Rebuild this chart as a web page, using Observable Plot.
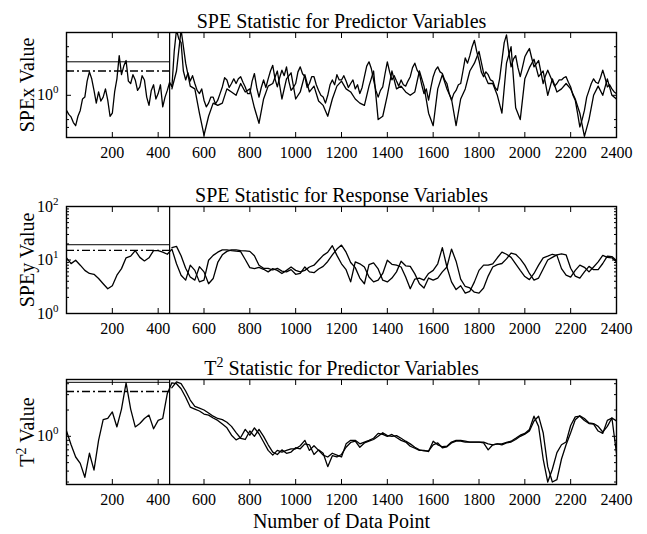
<!DOCTYPE html>
<html><head><meta charset="utf-8">
<script src="https://cdn.jsdelivr.net/npm/d3@7"></script>
<script src="https://cdn.jsdelivr.net/npm/@observablehq/plot@0.6"></script>
<style>
body{margin:0;background:#fff;}
#chart{width:647px;height:534px;position:relative;background:#fff;}
#chart svg{display:block;}
</style></head><body><div id="chart"></div>
<script>
// ---- data ----
const CHANGE_POINT = 450; // vertical separator
const xTicks = [200, 400, 600, 800, 1000, 1200, 1400, 1600, 1800, 2000, 2200, 2400];

const titles = ["SPE Statistic for Predictor Variables", "SPE Statistic for Response Variables", "T^2 Statistic for Predictor Variables"];
const yLabels = ["SPEx Value", "SPEy Value", "T^2 Value"];
const xLabel = "Number of Data Point";

// sampling of each series: [first data point, spacing]
const samplingA = [[0, 10], [0, 20], [0, 20]];
const samplingB = [[460, 20], [460, 20], [460, 20]];

// SPEx (step 10 from 0)
const spexA = [
  0.65, 0.58, 0.54, 0.46, 0.42, 0.55, 0.65, 0.9, 0.95, 1.5,
  1.95, 1.6, 1.15, 0.8, 1.1, 0.85, 0.95, 1.2, 0.87, 0.55,
  0.6, 1.1, 1.6, 3.1, 1.8, 2.3, 2.7, 1.5, 1.4, 1.8,
  1.55, 1.15, 1.27, 1.75, 1.55, 0.95, 0.75, 1.15, 1.35, 0.9,
  1.05, 1.35, 0.72, 0.95, 1.15, 1.45, 1.27, 3.5, 6.5, 5.0,
  4.5, 2.0, 1.55, 1.9, 1.5, 1.75, 1.4, 1.15, 1.05, 1.2,
  0.87, 0.72, 0.8, 0.95, 0.95, 0.78, 0.87, 1.05, 1.27, 1.65,
  1.55, 1.25, 1.4, 1.6, 1.4, 1.6, 1.7, 1.45, 1.27, 1.05,
  1.05, 1.5, 1.86, 1.25, 0.95, 1.25, 1.55, 1.25, 1.6, 2.0,
  2.35, 1.6, 1.27, 1.65, 2.05, 1.75, 2.25, 1.5, 1.15, 1.25,
  1.4, 1.95, 2.25, 1.85, 1.7, 1.25, 1.4, 1.7, 1.7, 1.35,
  1.15, 1.0, 0.95, 0.8, 1.0, 1.35, 1.55, 1.35, 1.8, 1.55,
  1.55, 1.75, 1.5, 1.25, 1.4, 1.55, 1.2, 1.35, 1.05, 1.25,
  1.7, 2.3, 2.6, 2.15, 1.55, 1.15, 0.95, 1.15, 1.27, 1.85,
  2.6, 1.95, 1.55, 1.75, 1.5, 1.3, 1.55, 1.35, 1.3, 1.5,
  1.7, 2.2, 2.5, 2.05, 1.86, 1.35, 1.05, 1.2, 0.87, 1.25,
  1.7, 2.05, 2.25, 1.95, 1.86, 1.55, 1.4, 1.05, 0.87, 1.05,
  1.15, 1.35, 1.4, 2.0, 2.9, 2.5, 3.1, 4.0, 4.8, 3.5,
  2.7, 1.95, 1.7, 1.95, 1.8, 1.55, 1.5, 1.25, 1.15, 1.6,
  2.7, 4.5, 5.6, 3.4, 2.25, 2.8, 3.1, 2.2, 1.7, 2.25,
  3.0, 3.4, 3.8, 2.9, 2.25, 2.45, 2.7, 1.95, 1.4, 1.75,
  2.05, 1.75, 1.5, 1.3, 1.4, 1.55, 1.55, 1.65, 1.7, 1.45,
  1.27, 1.0, 0.87, 0.6, 0.405, 0.5, 0.65, 0.95, 1.15, 1.4,
  1.6, 1.45, 1.4, 1.65, 2.05, 1.65, 1.27, 1.35, 1.2, 1.1,
  1.05
];
const spexB = [
  1.2, 2.0, 6.5, 2.5, 1.3, 1.2, 0.6, 0.32, 0.55, 0.8,
  0.75, 0.8, 1.2, 1.1, 1.0, 1.4, 1.1, 1.2, 0.7, 0.45,
  0.9, 1.3, 1.4, 2.0, 0.9, 1.6, 1.9, 0.9, 1.1, 1.8,
  1.1, 1.3, 0.85, 0.75, 0.55, 0.9, 1.3, 1.5, 1.2, 1.1,
  0.9, 0.8, 0.75, 1.3, 2.0, 0.5, 0.55, 1.0, 2.0, 1.2,
  1.3, 1.1, 1.0, 1.1, 2.0, 1.3, 0.6, 0.42, 1.2, 1.8,
  1.2, 0.9, 0.42, 0.9, 1.2, 2.0, 2.5, 3.5, 1.9, 1.4,
  1.4, 1.0, 0.6, 2.5, 4.0, 0.7, 0.5, 1.6, 2.2, 2.8,
  1.7, 2.0, 1.0, 1.6, 1.1, 1.2, 1.4, 1.2, 0.9, 0.6,
  0.31, 0.5, 1.0, 1.3, 1.0, 1.6, 1.0, 0.9
];
// SPEy
const speyA = [
  11, 8.55, 9.9, 8, 6.4, 5.6, 5.4, 4.5, 3.6, 2.9,
  3.3, 5.2, 6.9, 11, 11.8, 15, 11.2, 9.6, 11, 15,
  15, 14, 12.8, 16, 8.5, 5.2, 4.2, 8, 6.4, 3.9,
  4.2, 9.9, 12.2, 14, 15.5, 15.5, 15, 14.6, 14.3, 10.2,
  7.2, 6.9, 7.3, 6.7, 6.0, 6.9, 6.4, 5.6, 6.4, 7.4,
  6.4, 6.0, 6.4, 7.4, 8.0, 9.9, 12.2, 14, 18.5, 12.2,
  8.5, 6.6, 3.9, 9.2, 8.5, 7.4, 4.8, 3.9, 4.2, 5.6,
  9.9, 8.3, 8, 7.4, 4.8, 2.9, 4.4, 4.6, 4.2, 5.6,
  6.4, 8.5, 17, 7.4, 3.9, 2.8, 3.3, 2.4, 2.6, 3.9,
  6.4, 8, 8, 8.5, 11, 14, 12.8, 11.2, 8.5, 6.4,
  4.9, 4.3, 5.6, 8, 11, 11.8, 12.8, 12.2, 6.9, 5.2,
  4.8, 6.4, 8, 7.3, 6, 7.4, 9.2, 12.2, 11.2, 11,
  9.2
];
const speyB = [
  17, 18, 12, 7, 4.8, 4.2, 7.5, 6, 3.6, 4.5,
  9, 12.5, 14.5, 15.5, 15.5, 15, 14.8, 14.5, 12, 8,
  7, 7, 6.5, 7, 6.2, 6.0, 6.6, 5.4, 5.6, 7.4,
  6.0, 5.8, 6.8, 7.6, 9.4, 12.5, 16, 19, 14, 9,
  7.2, 4.6, 3.6, 8.2, 8.8, 6.8, 4.2, 3.9, 4.6, 6,
  9.5, 7.8, 7.6, 5.5, 3.6, 3.0, 4.6, 4.2, 4.6, 6.0,
  7.4, 16, 9.5, 4.4, 3.2, 3.0, 2.5, 2.4, 3.0, 5,
  7.4, 8.2, 8.6, 10.5, 13.5, 12.8, 10.5, 8, 5.6, 4.2,
  4.6, 6.8, 10, 11.2, 12.5, 13, 12.5, 7, 5, 4.6,
  6, 7.6, 6.6, 6.6, 8.6, 11.8, 11.6, 9.8
];
// T^2
const t2A = [
  1.15, 0.8, 0.58, 0.49, 0.34, 0.64, 0.41, 0.9, 1.55, 1.6,
  1.9, 1.28, 2.05, 4.1, 2.05, 1.28, 1.4, 1.6, 1.75, 1.22,
  1.52, 1.6, 3.1, 4.1, 4.0, 3.5, 2.8, 2.16, 2.05, 1.95,
  1.8, 1.75, 1.62, 1.52, 1.38, 1.25, 1.03, 0.91, 0.97, 1.2,
  1.03, 1.25, 1.07, 0.86, 0.69, 0.61, 0.69, 0.66, 0.69, 0.72,
  0.72, 0.78, 0.9, 0.69, 0.78, 0.69, 0.61, 0.58, 0.64, 0.61,
  0.58, 0.82, 0.9, 0.9, 0.82, 0.86, 0.9, 0.95, 1.08, 1.05,
  1.0, 1.05, 0.97, 0.9, 0.86, 0.77, 0.73, 0.69, 0.69, 0.67,
  0.88, 0.8, 0.76, 0.77, 0.86, 0.9, 0.9, 0.88, 0.86, 0.86,
  0.86, 0.86, 0.82, 0.8, 0.82, 0.82, 0.85, 0.88, 0.95, 1.03,
  1.08, 1.2, 1.7, 1.3, 0.55, 0.3, 0.42, 0.65, 0.8, 0.86,
  1.33, 1.67, 1.7, 1.52, 1.4, 1.38, 1.15, 1.08, 1.52, 1.62,
  1.5
];
const t2B = [
  3.6, 4.2, 4.0, 3.3, 2.6, 2.2, 2.1, 2.0, 1.85, 1.7,
  1.6, 1.55, 1.45, 1.3, 1.1, 0.95, 0.92, 1.15, 1.0, 1.2,
  1.0, 0.8, 0.66, 0.62, 0.7, 0.64, 0.66, 0.74, 0.72, 0.82,
  0.8, 0.62, 0.7, 0.64, 0.45, 0.6, 0.58, 0.62, 0.75, 0.85,
  0.88, 0.75, 0.84, 0.88, 0.92, 1.0, 1.1, 1.02, 1.0, 1.02,
  0.95, 0.88, 0.82, 0.75, 0.7, 0.68, 0.68, 0.8, 0.84, 0.74,
  0.76, 0.84, 0.88, 0.88, 0.86, 0.86, 0.86, 0.86, 0.84, 0.7,
  0.8, 0.82, 0.8, 0.84, 0.86, 0.92, 1.0, 1.06, 1.15, 1.5,
  1.7, 1.1, 0.45, 0.3, 0.32, 0.55, 0.8, 1.1, 1.55, 1.72,
  1.6, 1.42, 1.4, 1.3, 1.12, 1.3, 1.62, 0.64
];

// control limits [solid, dash-dot]
const limitsSpex = [2.6, 2.0];
const limitsSpey = [19.3, 15.1];
const limitsT2 = [4.15, 3.26];

// y axis settings
const yDomains = [[0.3, 6], [1, 100], [0.281, 4.47]];
const yLabeledTicks = [[1], [1, 10, 100], [1]];
const yMinorTicks = [
  [0.4, 0.5, 2, 3, 4],
  [2, 3, 4, 5, 6, 7, 8, 9, 20, 30, 40, 50, 60, 70, 80, 90],
  [0.3, 0.4, 0.5, 0.6, 0.7, 0.8, 0.9, 2, 3, 4]
];
const expLabel = {0.1: "10^-1", 1: "10^0", 10: "10^1", 100: "10^2"};

// ---- drawing ----
const FONT = "'Liberation Serif', 'Times New Roman', serif";

function supify(svg) {
  d3.select(svg).selectAll("text").each(function () {
    const s = this.textContent;
    if (!s.includes("^")) return;
    const m = s.match(/^(.*?)\^(-?\S)(.*)$/);
    if (!m) return;
    const fs = parseFloat(getComputedStyle(this).fontSize) || 16;
    const up = Math.round(fs * 0.42);
    const t = d3.select(this);
    t.selectAll("*").remove();
    t.text(null);
    t.append("tspan").text(m[1]);
    t.append("tspan").attr("dy", -up).attr("font-size", Math.round(fs * 0.7)).text(m[2]);
    if (m[3]) t.append("tspan").attr("dy", up).text(m[3]);
  });
}

function panel(i, opts) {
  const {height, marginTop, marginBottom, a, b, limits, withXLabel} = opts;
  const [a0, aStep] = samplingA[i];
  const [b0, bStep] = samplingB[i];
  const dataA = a.map((v, k) => ({x: a0 + k * aStep, v}));
  const dataB = b.map((v, k) => ({x: b0 + k * bStep, v}));
  const axisFont = {fontFamily: FONT, fill: "#000"};
  const noText = () => "";
  const marks = [
    Plot.line(dataA, {x: "x", y: "v", stroke: "#000", strokeWidth: 1.3, clip: true}),
    Plot.line(dataB, {x: "x", y: "v", stroke: "#000", strokeWidth: 1.3, clip: true}),
    Plot.ruleY([limits[0]], {x1: 0, x2: CHANGE_POINT, stroke: "#000", strokeWidth: 1}),
    Plot.ruleY([limits[1]], {x1: 0, x2: CHANGE_POINT, stroke: "#000", strokeWidth: 1.3, strokeDasharray: "8,3,2,3"}),
    Plot.ruleX([CHANGE_POINT], {stroke: "#000", strokeWidth: 1.2}),
    Plot.frame({stroke: "#000", strokeWidth: 1.4}),
    Plot.axisX(xTicks, {anchor: "bottom", tickSize: 0, tickPadding: 9, fontSize: 16, tickFormat: d => String(d), label: null, ...axisFont}),
    Plot.axisX(xTicks, {anchor: "bottom", tickSize: -5, tickFormat: noText, label: null}),
    Plot.axisX(xTicks, {anchor: "top", tickSize: -5, tickFormat: noText, label: null}),
    Plot.axisY(yLabeledTicks[i], {anchor: "left", tickSize: 0, tickPadding: 8, fontSize: 16, tickFormat: d => expLabel[d], label: null, ...axisFont}),
    Plot.axisY(yLabeledTicks[i], {anchor: "left", tickSize: -5, tickFormat: noText, label: null}),
    Plot.axisY(yLabeledTicks[i], {anchor: "right", tickSize: -5, tickFormat: noText, label: null}),
    Plot.axisY(yMinorTicks[i], {anchor: "left", tickSize: -3, tickFormat: noText, label: null}),
    Plot.axisY(yMinorTicks[i], {anchor: "right", tickSize: -3, tickFormat: noText, label: null}),
    Plot.text([titles[i]], {text: d => d, frameAnchor: "top", textAnchor: "middle", lineAnchor: "bottom", dy: -5, fontSize: 20, ...axisFont}),
    Plot.text([yLabels[i]], {text: d => d, frameAnchor: "left", textAnchor: "middle", lineAnchor: "middle", rotate: -90, dx: -39, fontSize: 20, ...axisFont})
  ];
  if (withXLabel) marks.push(Plot.text([xLabel], {text: d => d, frameAnchor: "bottom", textAnchor: "middle", lineAnchor: "top", dy: 29, fontSize: 20, ...axisFont}));
  return Plot.plot({
    width: 647, height,
    marginLeft: 66, marginRight: 31, marginTop, marginBottom,
    style: {fontFamily: FONT, fontSize: "16px", color: "#000", background: "#fff", overflow: "visible"},
    x: {domain: [0, 2400]},
    y: {type: "log", domain: yDomains[i]},
    marks
  });
}

const root = document.getElementById("chart");
const svgs = [
  panel(0, {height: 170, marginTop: 32, marginBottom: 33, a: spexA, b: spexB, limits: limitsSpex}),
  panel(1, {height: 170, marginTop: 36, marginBottom: 27, a: speyA, b: speyB, limits: limitsSpey}),
  panel(2, {height: 194, marginTop: 39, marginBottom: 50, a: t2A, b: t2B, limits: limitsT2, withXLabel: true})
];
svgs.forEach(s => root.appendChild(s));
svgs.forEach(supify);
</script>
</body></html>
